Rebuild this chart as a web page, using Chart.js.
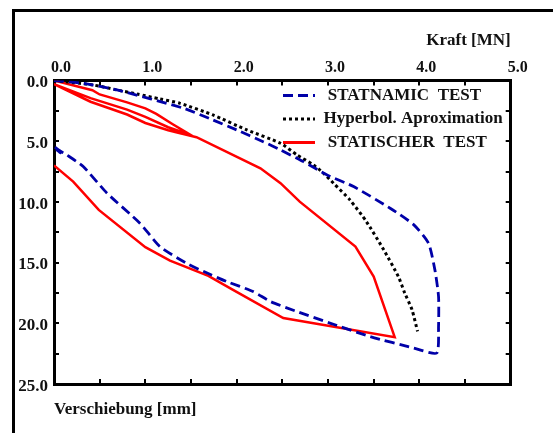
<!DOCTYPE html>
<html>
<head>
<meta charset="utf-8">
<script src="https://cdn.jsdelivr.net/npm/chart.js@4.4.1/dist/chart.umd.min.js"></script>
<style>
    body { margin: 0; background: #fff; }
    #wrap { position: relative; width: 553px; height: 433px; overflow: hidden; }
    #frame { position: absolute; left: 12px; top: 9px; width: 700px; height: 600px; border-left: 3px solid #000; border-top: 3px solid #000; }
    #box { position: absolute; left: 0; top: 0; width: 553px; height: 433px; }
</style>
</head>
<body>
<div id="wrap">
    <div id="frame"></div>
    <div id="box"><canvas id="chart"></canvas></div>
</div>
<script>
// Kraft [MN] / Verschiebung [mm]
const statnamicForce = [0, 0.32, 0.69, 1.42, 1.74, 2.0, 2.29, 2.48, 2.73, 2.99, 3.28, 3.68, 3.94, 4.10, 4.17, 4.21, 4.21, 4.19,
    3.94, 3.46, 3.02, 2.66, 2.37, 2.18, 1.89, 1.64, 1.45, 1.16, 0.94, 0.58, 0.32, 0.14, 0.05, 0.0, 0.07, 0.02];
const statnamicDisp = [0, 0.23, 0.78, 2.29, 3.25, 4.07, 5.04, 5.72, 6.68, 7.78, 8.74, 10.52, 11.89, 13.40, 15.6, 17.79, 20.26, 22.45,
    22.04, 21.09, 19.98, 19.03, 18.21, 17.38, 16.56, 15.74, 15.05, 13.68, 11.75, 9.28, 7.09, 6.13, 5.72, 5.45, 5.95, 5.65];

const hyperbolForce = [0, 0.43, 0.69, 0.91, 1.16, 1.38, 1.74, 2.11, 2.48, 2.66, 2.84, 2.95, 3.06, 3.24, 3.42, 3.61, 3.77, 3.84, 3.92, 3.98];
const hyperbolDisp = [0, 0.37, 0.78, 1.11, 1.52, 1.88, 2.84, 4.07, 5.17, 6.13, 6.95, 7.64, 8.46, 9.84, 11.62, 13.95, 16.15, 17.51, 18.89, 20.67];

const statischForce = [0, 0.42, 0.5, 0.8, 1.0, 1.12, 1.3, 1.5,
    1.25, 1.0, 0.8, 0.4, 0,
    0.4, 0.8, 1.0, 1.25, 1.56, 2.26, 2.48, 2.69, 3.30, 3.50, 3.73,
    2.51, 1.96, 1.69, 1.27, 1.0, 0.49, 0.21, 0];
const statischDisp = [0, 0.8, 1.15, 1.8, 2.3, 2.75, 3.6, 4.5,
    3.85, 3.0, 2.4, 1.45, 0.3,
    1.75, 2.8, 3.5, 4.1, 4.67, 7.23, 8.46, 9.98, 13.68, 16.15, 21.14,
    19.57, 17.24, 16.09, 14.83, 13.73, 10.66, 8.33, 7.0];

const seriesNames = [' STATNAMIC  TEST', 'Hyperbol. Aproximation', ' STATISCHER  TEST'];
const forceLabels = ['0.0', '1.0', '2.0', '3.0', '4.0', '5.0'];
const dispLabels = ['0.0', '5.0', '10.0', '15.0', '20.0', '25.0'];

function points(xs, ys) {
    return xs.map((x, i) => ({ x: x, y: ys[i] }));
}

function everyOther(list, step) {
    return v => {
        const k = v / step;
        return Math.abs(k - Math.round(k)) < 1e-6 ? list[Math.round(k)] : '';
    };
}

const serif = 'Liberation Serif';

// legend box moved into the upper right of the plot
const legendSpot = {
    id: 'legendSpot',
    afterLayout(chart) {
        const lg = chart.legend;
        const area = chart.chartArea;
        const w = lg.width;
        lg.left = area.left + 222.5;
        lg.right = lg.left + w;
        lg.top = area.top;
        lg.bottom = area.bottom;
    }
};

const edgeGrid = { drawOnChartArea: false, drawTicks: true, tickLength: -5, lineWidth: 2, color: '#000' };
const edgeBorder = { display: true, color: '#000', width: 3 };

new Chart(document.getElementById('chart'), {
    type: 'scatter',
    data: {
        datasets: [{
            label: seriesNames[0],
            data: points(statnamicForce, statnamicDisp),
            showLine: true,
            borderColor: '#0000a8',
            borderWidth: 2.8,
            borderDash: [10, 5],
            tension: 0.2,
            pointRadius: 0,
            xAxisID: 'x',
            yAxisID: 'y'
        }, {
            label: seriesNames[1],
            data: points(hyperbolForce, hyperbolDisp),
            showLine: true,
            borderColor: '#000',
            borderWidth: 3,
            borderDash: [3, 3],
            tension: 0.2,
            pointRadius: 0,
            xAxisID: 'x',
            yAxisID: 'y'
        }, {
            label: seriesNames[2],
            data: points(statischForce, statischDisp),
            showLine: true,
            borderColor: '#ff0000',
            borderWidth: 2.5,
            tension: 0,
            pointRadius: 0,
            xAxisID: 'x',
            yAxisID: 'y'
        }]
    },
    options: {
        responsive: true,
        maintainAspectRatio: false,
        animation: false,
        layout: { padding: 0 },
        plugins: {
            tooltip: { enabled: false },
            legend: {
                position: 'chartArea',
                align: 'start',
                labels: {
                    usePointStyle: true,
                    pointStyleWidth: 32,
                    padding: 6.5,
                    color: '#111',
                    font: { family: serif, size: 17, weight: 'bold' },
                    generateLabels: chart => chart.data.datasets.map((ds, i) => ({
                        text: ds.label,
                        strokeStyle: ds.borderColor,
                        fillStyle: ds.borderColor,
                        lineWidth: 3,
                        lineDash: ds.borderDash || [],
                        pointStyle: 'line',
                        hidden: false,
                        datasetIndex: i,
                        fontColor: '#111'
                    }))
                }
            }
        },
        scales: {
            x: {
                type: 'linear',
                position: 'top',
                min: 0,
                max: 5,
                afterFit: s => { s.height = 80.5; },
                grid: edgeGrid,
                border: edgeBorder,
                ticks: {
                    stepSize: 0.5,
                    padding: 7.9,
                    labelOffset: 7,
                    maxRotation: 0,
                    autoSkip: false,
                    color: '#111',
                    font: { family: serif, size: 16, weight: 'bold' },
                    callback: everyOther(forceLabels, 1)
                },
                title: {
                    display: true,
                    text: 'Kraft [MN]',
                    align: 'end',
                    color: '#111',
                    padding: { top: 30.8, bottom: 0 },
                    font: { family: serif, size: 17, weight: 'bold' }
                }
            },
            x2: {
                type: 'linear',
                position: 'bottom',
                min: 0,
                max: 5,
                afterFit: s => { s.height = 49; },
                grid: edgeGrid,
                border: edgeBorder,
                ticks: { stepSize: 0.5, autoSkip: false, callback: () => '' },
                title: {
                    display: true,
                    text: 'Verschiebung [mm]',
                    align: 'start',
                    color: '#111',
                    padding: { top: 0, bottom: 12.8 },
                    font: { family: serif, size: 17, weight: 'bold' }
                }
            },
            y: {
                type: 'linear',
                position: 'left',
                reverse: true,
                min: 0,
                max: 25,
                afterFit: s => { s.width = 54; },
                grid: edgeGrid,
                border: edgeBorder,
                ticks: {
                    stepSize: 2.5,
                    padding: 11,
                    labelOffset: 2.5,
                    autoSkip: false,
                    color: '#111',
                    font: { family: serif, size: 17, weight: 'bold' },
                    callback: everyOther(dispLabels, 5)
                }
            },
            y2: {
                type: 'linear',
                position: 'right',
                reverse: true,
                min: 0,
                max: 25,
                afterFit: s => { s.width = 42.3; },
                grid: edgeGrid,
                border: edgeBorder,
                ticks: { stepSize: 2.5, autoSkip: false, callback: () => '' }
            }
        }
    },
    plugins: [legendSpot]
});
</script>
</body>
</html>
